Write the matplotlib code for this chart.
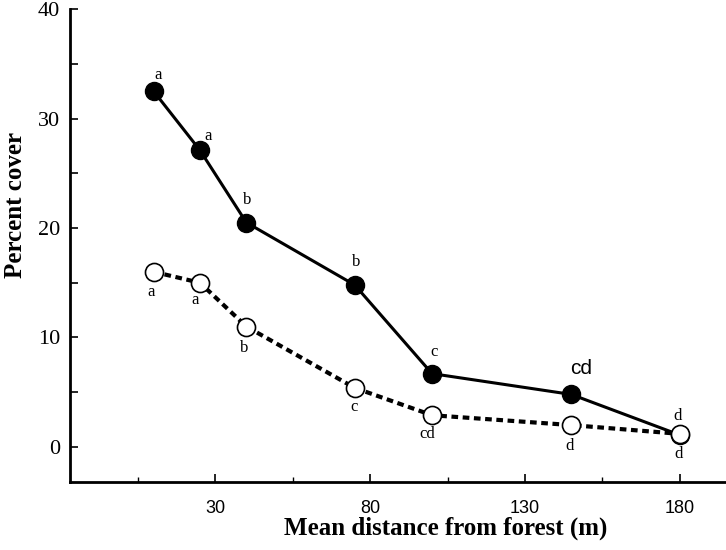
import matplotlib.pyplot as plt

# Data
distance = [10, 25, 40, 75, 100, 145, 180]
cover_filled = [32.5, 27.1, 20.5, 14.8, 6.7, 4.8, 1.1]
cover_open = [16.0, 15.0, 11.0, 5.4, 2.9, 2.0, 1.2]
letters_filled = ['a', 'a', 'b', 'b', 'c', 'cd', 'd']
letters_open = ['a', 'a', 'b', 'c', 'cd', 'd', 'd']

# letter offsets from each marker, in pixels (dx, dy upward)
offs_filled = [(5, 16), (8, 14), (1, 23), (2, 23), (2, 22), (10, 26), (-2, 19)]
offs_open = [(-2, -20), (-5, -17), (-2, -21), (-1, -19), (-5, -19), (-2, -21), (-1, -20)]

serif = 'Liberation Serif'
sans = 'Liberation Sans'

fig = plt.figure(figsize=(7.26, 5.5), dpi=100)
ax = fig.add_axes([0.0964, 0.1236, 0.9036, 0.86])

ax.plot(distance, cover_filled, color='black', lw=2.2, linestyle='-',
        marker='o', markersize=13, markerfacecolor='black',
        markeredgecolor='black', zorder=2)
ax.plot(distance, cover_open, color='black', lw=3, linestyle=(0, (1.6, 1.1)),
        marker='o', markersize=13, markerfacecolor='white',
        markeredgecolor='black', markeredgewidth=1.2, zorder=3)

# significance letters
for x, y, s, o in zip(distance, cover_filled, letters_filled, offs_filled):
    if s == 'cd':
        ax.annotate(s, (x, y), xytext=o, textcoords='offset pixels',
                    ha='center', va='center', fontsize=15, family=sans)
    else:
        ax.annotate(s, (x, y), xytext=o, textcoords='offset pixels',
                    ha='center', va='center', fontsize=12, family=serif)
for x, y, s, o in zip(distance, cover_open, letters_open, offs_open):
    ax.annotate(s, (x, y), xytext=o, textcoords='offset pixels',
                ha='center', va='center', fontsize=12, family=serif)

ax.set_xlim(-17, 195)
ax.set_ylim(-3.2, 40)

ax.set_xticks([30, 80, 130, 180])
ax.set_xticks([5, 55, 105, 155], minor=True)
ax.set_yticks([0, 10, 20, 30, 40])
ax.set_yticks([5, 15, 25, 35], minor=True)

ax.tick_params(axis='x', which='major', direction='in', length=5.5, width=1.2, pad=13,
               labelsize=13, labelfontfamily=sans)
ax.tick_params(axis='x', which='minor', direction='in', length=3.5, width=1.0)
ax.tick_params(axis='y', which='both', direction='in', length=6, width=1.2, pad=7)
ax.tick_params(axis='y', which='major', labelsize=16, labelfontfamily=serif)

for side in ['top', 'right']:
    ax.spines[side].set_visible(False)
for side in ['left', 'bottom']:
    ax.spines[side].set_linewidth(2)

ax.set_xlabel('Mean distance from forest (m)', family=serif, fontsize=18,
              fontweight='bold')
ax.set_ylabel('Percent cover', family=serif, fontsize=18,
              fontweight='bold')
ax.xaxis.set_label_coords(0.572, -0.073)
ax.yaxis.set_label_coords(-0.066, 0.586)

fig.savefig('out.png', dpi=100)
